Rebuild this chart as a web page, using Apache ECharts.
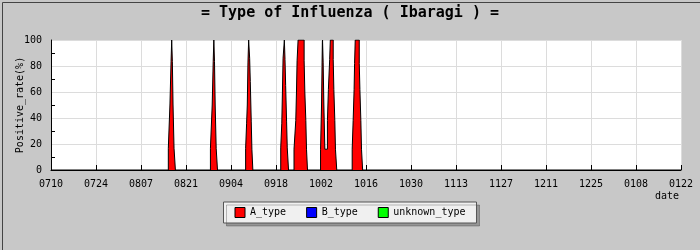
<!DOCTYPE html>
<html><head><meta charset="utf-8">
<script src="https://cdn.jsdelivr.net/npm/echarts@6/dist/echarts.min.js"></script>
<style>html,body{margin:0;padding:0;background:#c8c8c8}#c{width:700px;height:250px}</style>
</head><body><div id="c"></div>
<script>
// x tick labels (every 14 days starting 07/10)
const tickLabels = ['0710','0724','0807','0821','0904','0918','1002','1016','1030','1113','1127','1211','1225','0108','0122'];
const seriesNames = ['A_type','B_type','unknown_type'];
// [day offset from 07/10, positive rate %]; each value holds until the next point
const aType = [
  [0,0],
  [36.5,16.7],[37.0,50],[37.35,83.3],[37.55,100],[37.76,83.3],[37.97,50],[38.28,16.7],[38.7,0],
  [49.6,16.7],[50.15,50],[50.46,83.3],[50.66,100],[50.87,83.3],[51.08,50],[51.39,16.7],[51.8,0],
  [60.55,16.7],[60.86,36],[61.07,50],[61.28,83],[61.49,100],[61.8,86],[62.0,68],[62.3,37],[62.5,16],[62.8,0],
  [71.47,17],[71.8,36],[72.0,60],[72.2,86],[72.6,100],[72.8,85],[73.0,65],[73.3,37],[73.5,17],[73.9,0],
  [75.6,16],[76.15,38],[76.37,60],[76.56,84],[76.87,100],[78.75,84],[78.97,60],[79.28,38],[79.49,16],[79.8,0],
  [83.86,16],[84.17,50],[84.36,83],[84.48,100],[84.67,83],[84.89,50],[85.2,16],
  [85.7,16],[86.0,38],[86.3,62],[86.7,85],[86.9,100],[87.8,85],[88.0,62],[88.3,38],[88.5,16],[88.9,0],
  [93.7,16],[94.0,38],[94.3,62],[94.45,82],[94.65,100],[95.9,82],[96.1,62],[96.4,38],[96.6,16],[96.95,0],
  [196,0]
];
const bType = [];
const unknownType = [];

const FONT = 'DejaVu Sans Mono';
const colors = ['#ff0000','#0000ff','#00ff00'];
const chart = echarts.init(document.getElementById('c'));
chart.setOption({
  backgroundColor:'#c8c8c8',
  animation:false,
  title:{text:'= Type of Influenza ( Ibaragi ) =', left:'center', top:6, padding:0,
    textStyle:{fontFamily:FONT, fontWeight:'bold', fontSize:15, color:'#000'}},
  grid:{left:51, right:19, top:40, bottom:80, show:true, backgroundColor:'#fff', borderWidth:0,
    containLabel:false, outerBoundsMode:'none'},
  legend:{
    top:202, left:'center', padding:[5,11], itemGap:20, itemWidth:10, itemHeight:10, icon:'rect',
    backgroundColor:'#f0f0f0', borderColor:'#555', borderWidth:1,
    shadowColor:'rgba(0,0,0,0.25)', shadowBlur:0, shadowOffsetX:3, shadowOffsetY:3,
    textStyle:{fontFamily:FONT, fontSize:10, color:'#000'},
    data: seriesNames.map((n,i)=>({name:n, itemStyle:{color:colors[i], borderColor:'#000', borderWidth:1}}))
  },
  xAxis:{type:'value', min:0, max:196, interval:14,
    axisLine:{lineStyle:{color:'#000', width:1}},
    axisTick:{show:true, inside:true, length:5, lineStyle:{color:'#000'}},
    axisLabel:{fontFamily:FONT, fontSize:10, color:'#000', margin:9, formatter:v=>tickLabels[Math.round(v/14)]},
    splitLine:{show:true, lineStyle:{color:'#dcdcdc', width:1}}
  },
  yAxis:{type:'value', min:0, max:100, interval:20,
    name:'Positive_rate(%)', nameLocation:'middle', nameGap:26, nameRotate:90, nameMoveOverlap:false,
    nameTextStyle:{fontFamily:FONT, fontSize:10, color:'#000'},
    axisLine:{show:true, lineStyle:{color:'#000', width:1}},
    axisTick:{show:true, inside:true, length:0, lineStyle:{color:'#000', width:0}},
    minorTick:{show:true, splitNumber:2, length:4, lineStyle:{color:'#000'}},
    axisLabel:{fontFamily:FONT, fontSize:10, color:'#000', margin:9},
    splitLine:{show:true, lineStyle:{color:'#dcdcdc', width:1}}
  },
  graphic:[
    {type:'text', right:21, top:191, style:{text:'date', font:'10px "DejaVu Sans Mono"', fill:'#000'}},
    {type:'rect', left:0, top:0, shape:{x:0.5,y:0.5,width:699,height:249}, style:{fill:'none', stroke:'#444', lineWidth:1}, silent:true}
  ],
  series:[
    {name:'A_type', type:'line', step:'end', data:aType, showSymbol:false, symbol:'none',
     color:colors[0], lineStyle:{color:'#000', width:1}, areaStyle:{color:colors[0], opacity:1}},
    {name:'B_type', type:'line', step:'end', data:bType, showSymbol:false, symbol:'none',
     color:colors[1], lineStyle:{color:'#000', width:1}, areaStyle:{color:colors[1], opacity:1}},
    {name:'unknown_type', type:'line', step:'end', data:unknownType, showSymbol:false, symbol:'none',
     color:colors[2], lineStyle:{color:'#000', width:1}, areaStyle:{color:colors[2], opacity:1}}
  ]
});
</script></body></html>
